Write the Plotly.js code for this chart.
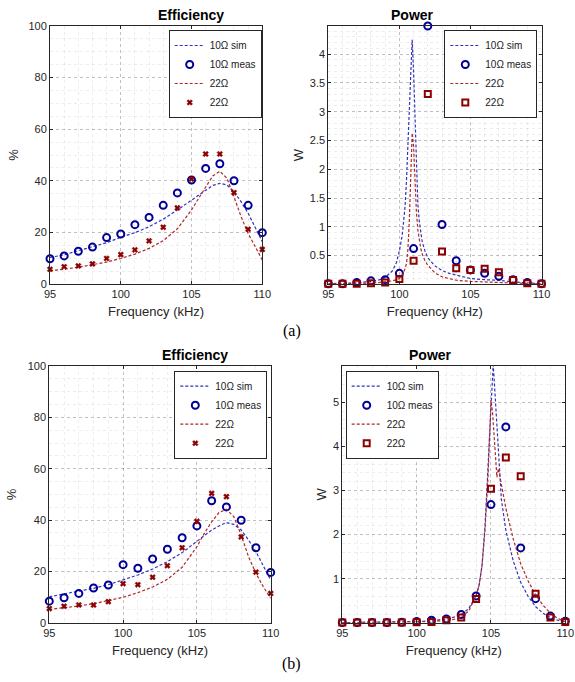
<!DOCTYPE html>
<html>
<head>
<meta charset="utf-8">
<script src="https://cdn.plot.ly/plotly-3.0.1.min.js"></script>
<style>html,body{margin:0;padding:0;background:#fff;}#chart{width:575px;height:682px;}</style>
</head>
<body>
<div id="chart"></div>
<script>
// ---------- data ----------
var measFreq = [95,96,97,98,99,100,101,102,103,104,105,106,107,108,109,110];

// (a) Efficiency
var effSimFreq = [95,96,97,98,99,100,101,102,103,104,105,105.5,106,106.5,107,107.5,108,108.5,109,109.5,110];
var effA10Sim  = [10.3,11.3,12.9,14.5,16.0,18.1,19.9,22.2,25.1,28.7,32.6,34.6,36.4,38.2,39.0,38.4,35.8,31.9,27.4,22.2,16.4];
var effA22Sim  = [5.2,5.7,6.5,7.4,8.5,9.9,11.6,13.8,16.8,21.4,28.7,33.2,37.7,41.9,43.7,41.0,33.8,26.1,19.6,14.5,9.3];
var effA10Meas = [9.8,10.9,12.7,14.3,18.0,19.4,23.0,25.8,30.5,35.3,40.3,44.8,46.6,40.0,30.5,19.9];
var effA22Meas = [5.7,6.7,7.0,7.8,9.9,11.4,13.2,16.7,22.0,29.5,40.7,50.4,50.4,35.4,21.2,13.4];

// (a) Power
var powASimFreq = [95,96,97,98,98.5,99,99.5,99.8,100,100.2,100.4,100.5,100.6,100.7,100.8,100.9,101,101.1,101.2,101.3,101.4,101.5,101.6,101.8,102,102.5,103,103.5,104,105,106,107,108,109,110];
var powA10Sim = [0.01,0.015,0.025,0.05,0.07,0.12,0.23,0.38,0.58,0.85,1.35,1.8,2.4,3.0,3.8,4.25,3.7,2.9,2.0,1.4,1.1,0.88,0.75,0.58,0.46,0.32,0.24,0.19,0.16,0.1,0.08,0.07,0.04,0.02,0.01];
var powA22Sim = [0.005,0.008,0.012,0.02,0.03,0.04,0.06,0.08,0.1,0.16,0.27,0.36,0.6,1.1,1.8,2.63,2.4,1.8,1.25,0.95,0.77,0.63,0.53,0.41,0.33,0.2,0.13,0.1,0.07,0.05,0.04,0.03,0.02,0.01,0.005];
var powA10Meas = [0.01,0.01,0.03,0.06,0.08,0.19,0.62,4.49,1.04,0.41,0.25,0.19,0.14,0.08,0.03,0.01];
var powA22Meas = [0.01,0.01,0.01,0.02,0.03,0.09,0.41,3.31,0.57,0.28,0.25,0.27,0.21,0.075,0.02,0.01];

// (b) Efficiency
var effB10Sim  = [10.1,11.2,12.2,13.4,14.8,16.6,18.6,20.9,23.8,27.3,31.6,33.9,36.1,37.7,39.0,38.3,36.1,32.2,27.7,22.1,16.6];
var effB22Sim  = [5.2,5.8,6.5,7.4,8.6,9.9,11.7,13.9,16.9,21.6,29.6,34.8,39.3,42.9,44.2,41.3,34.2,25.7,19.2,14.0,9.5];
var effB10Meas = [8.4,9.7,11.4,13.5,14.7,22.6,21.2,24.8,28.6,33.1,37.7,47.5,45.1,39.9,29.2,19.6];
var effB22Meas = [5.5,6.4,6.9,6.9,8.2,15.2,14.8,17.7,22.2,29.2,39.5,50.4,49.1,33.4,19.7,11.4];

// (b) Power
var powBSimFreq = [95,97,99,100,101,102,102.5,103,103.5,104,104.2,104.4,104.6,104.8,105,105.1,105.15,105.2,105.3,105.4,105.5,105.7,106,106.5,107,107.5,108,108.5,109,109.5,110];
var powB10Sim = [0.005,0.01,0.02,0.03,0.05,0.09,0.13,0.19,0.32,0.62,0.85,1.3,2.2,3.6,5.0,5.6,5.85,5.6,5.0,4.3,3.8,2.8,2.1,1.4,0.92,0.6,0.37,0.22,0.12,0.06,0.02];
var powB22Sim = [0.005,0.01,0.02,0.02,0.03,0.06,0.08,0.13,0.27,0.62,0.85,1.3,2.1,3.3,5.05,4.8,4.5,4.2,3.7,3.3,3.5,3.1,2.6,1.9,1.34,0.95,0.64,0.4,0.22,0.1,0.03];
var powB10Meas = [0.01,0.01,0.01,0.01,0.015,0.03,0.06,0.09,0.19,0.61,2.68,4.44,1.70,0.55,0.155,0.04];
var powB22Meas = [0.01,0.01,0.01,0.01,0.01,0.015,0.02,0.06,0.12,0.54,3.04,3.75,3.32,0.66,0.12,0.02];

var legendNames = ['10\u03A9 sim','10\u03A9 meas','22\u03A9','22\u03A9'];

// ---------- styles ----------
var BLUE_LINE = 'rgb(50,50,190)';
var RED_LINE = 'rgb(175,40,40)';
var BLUE_MK = 'rgb(0,0,150)';
var RED_MK = 'rgb(140,0,0)';
var FONT = 'Liberation Sans, Arial, sans-serif';

function makeTraces(xa, ya, lg, simF, s10, s22, m10, m22, redSymbol) {
  return [
    {x: simF, y: s10, type: 'scatter', mode: 'lines', name: legendNames[0], xaxis: xa, yaxis: ya, legend: lg,
     line: {color: BLUE_LINE, width: 1.2, dash: '3px,2px'}},
    {x: measFreq, y: m10, type: 'scatter', mode: 'markers', name: legendNames[1], xaxis: xa, yaxis: ya, legend: lg, cliponaxis: false,
     marker: {symbol: 'circle-open', size: 7, color: BLUE_MK, line: {width: 2, color: BLUE_MK}}},
    {x: simF, y: s22, type: 'scatter', mode: 'lines', name: legendNames[2], xaxis: xa, yaxis: ya, legend: lg,
     line: {color: RED_LINE, width: 1.2, dash: '3px,2px'}},
    {x: measFreq, y: m22, type: 'scatter', mode: 'markers', name: legendNames[3], xaxis: xa, yaxis: ya, legend: lg, cliponaxis: false,
     marker: redSymbol === 'x'
       ? {symbol: 'x', size: 5, color: RED_MK, line: {width: 0.5, color: RED_MK}}
       : {symbol: 'square-open', size: 6, color: RED_MK, line: {width: 2, color: RED_MK}}}
  ];
}

var data = [].concat(
  makeTraces('x', 'y', 'legend', effSimFreq, effA10Sim, effA22Sim, effA10Meas, effA22Meas, 'x'),
  makeTraces('x2', 'y2', 'legend2', powASimFreq, powA10Sim, powA22Sim, powA10Meas, powA22Meas, 'sq'),
  makeTraces('x3', 'y3', 'legend3', effSimFreq, effB10Sim, effB22Sim, effB10Meas, effB22Meas, 'x'),
  makeTraces('x4', 'y4', 'legend4', powBSimFreq, powB10Sim, powB22Sim, powB10Meas, powB22Meas, 'sq')
);

function W(px){ return px/575; }
function H(py){ return 1 - py/682; }

function xAxis(d0, d1, anchor) {
  return {
    domain: [W(d0), W(d1)], anchor: anchor, range: [95, 110], dtick: 5, tick0: 95,
    showline: true, linecolor: '#262626', linewidth: 1, mirror: 'ticks',
    ticks: 'inside', ticklen: 3, tickcolor: '#262626',
    showgrid: true, gridcolor: 'rgba(0,0,0,0.25)', griddash: 'dot', gridwidth: 1,
    minor: {dtick: 1, showgrid: true, gridcolor: 'rgba(0,0,0,0.07)', griddash: 'dot'},
    zeroline: false,
    tickfont: {family: FONT, size: 11, color: '#262626'},
    title: {text: 'Frequency (kHz)', font: {family: FONT, size: 13, color: '#262626'}, standoff: 7}
  };
}
function yAxis(d0, d1, anchor, range, dtick, minorDtick, label, standoff) {
  return {
    domain: [H(d1), H(d0)], anchor: anchor, range: range, dtick: dtick, tick0: 0,
    showline: true, linecolor: '#262626', linewidth: 1, mirror: 'ticks',
    ticks: 'inside', ticklen: 3, tickcolor: '#262626',
    showgrid: true, gridcolor: 'rgba(0,0,0,0.25)', griddash: 'dot', gridwidth: 1,
    minor: {dtick: minorDtick, showgrid: true, gridcolor: 'rgba(0,0,0,0.07)', griddash: 'dot'},
    zeroline: false,
    tickfont: {family: FONT, size: 11, color: '#262626'},
    title: {text: label, font: {family: FONT, size: 13, color: '#262626'}, standoff: standoff}
  };
}

function legendBox(xRight, yTop, anchor) {
  return {
    x: xRight, y: yTop, xanchor: anchor, yanchor: 'top', xref: 'paper', yref: 'paper',
    bgcolor: '#ffffff', bordercolor: '#262626', borderwidth: 1,
    font: {family: FONT, size: 10, color: '#1a1a1a'},
    tracegroupgap: 0, itemwidth: 30
  };
}

var layout = {
  width: 575, height: 682,
  margin: {l: 0, r: 0, t: 0, b: 0},
  paper_bgcolor: '#ffffff', plot_bgcolor: '#ffffff',
  font: {family: FONT},
  xaxis:  xAxis(50, 262.3, 'y'),
  yaxis:  yAxis(26, 284, 'x', [0, 100], 20, 5, '%', 6),
  xaxis2: xAxis(328.3, 541.5, 'y2'),
  yaxis2: yAxis(26, 284, 'x2', [0.005, 4.49], 0.5, 0.1, 'W', 3),
  xaxis3: xAxis(49.3, 270.7, 'y3'),
  yaxis3: yAxis(366, 622.7, 'x3', [0, 100], 20, 5, '%', 8),
  xaxis4: xAxis(342.3, 565.3, 'y4'),
  yaxis4: yAxis(366, 622.7, 'x4', [0.005, 5.82], 1, 0.2, 'W', 3),
  legend:  legendBox(W(261.7), H(30), 'right'),
  legend2: legendBox(W(537.3), H(30), 'right'),
  legend3: legendBox(W(267.3), H(370.7), 'right'),
  legend4: legendBox(W(345.7), H(370.7), 'left'),
  annotations: [
    {text: '<b>Efficiency</b>', x: W(156.2), y: H(15), xref: 'paper', yref: 'paper', yanchor: 'middle', showarrow: false, font: {family: FONT, size: 14, color: '#000'}},
    {text: '<b>Power</b>', x: W(436), y: H(15), xref: 'paper', yref: 'paper', yanchor: 'middle', showarrow: false, font: {family: FONT, size: 14, color: '#000'}},
    {text: '<b>Efficiency</b>', x: W(160), y: H(355), xref: 'paper', yref: 'paper', yanchor: 'middle', showarrow: false, font: {family: FONT, size: 14, color: '#000'}},
    {text: '<b>Power</b>', x: W(453.8), y: H(355), xref: 'paper', yref: 'paper', yanchor: 'middle', showarrow: false, font: {family: FONT, size: 14, color: '#000'}},
    {text: '(a)', x: W(291.5), y: H(331), xref: 'paper', yref: 'paper', yanchor: 'middle', showarrow: false, font: {family: 'Liberation Serif, Times New Roman, serif', size: 16, color: '#000'}},
    {text: '(b)', x: W(291.5), y: H(664), xref: 'paper', yref: 'paper', yanchor: 'middle', showarrow: false, font: {family: 'Liberation Serif, Times New Roman, serif', size: 16, color: '#000'}}
  ]
};

Plotly.newPlot('chart', data, layout, {staticPlot: true, displayModeBar: false});
</script>
</body>
</html>
